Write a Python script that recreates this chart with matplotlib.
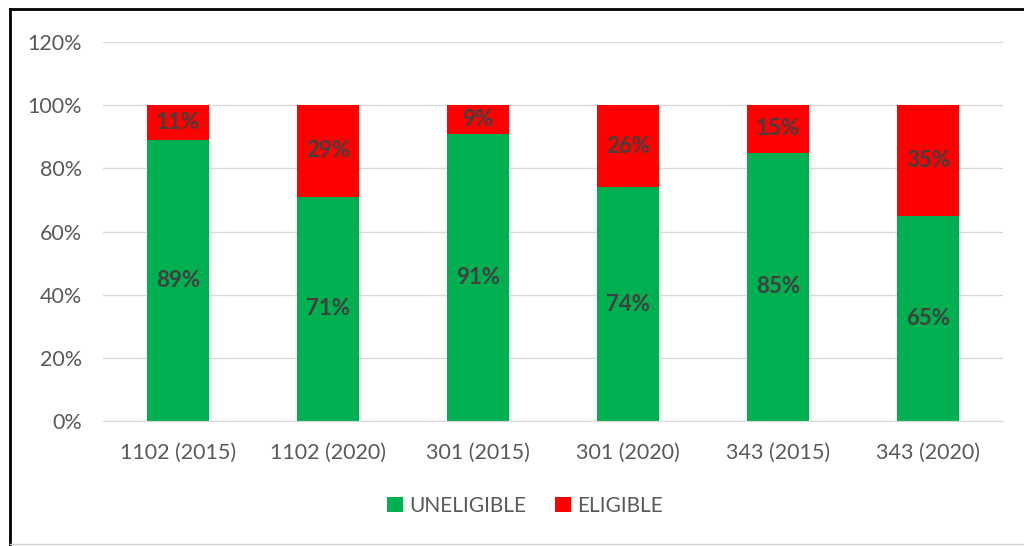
import matplotlib.pyplot as plt
from matplotlib.lines import Line2D
from matplotlib.ticker import FuncFormatter

categories = ['1102 (2015)', '1102 (2020)', '301 (2015)', '301 (2020)', '343 (2015)', '343 (2020)']
uneligible = [89, 71, 91, 74, 85, 65]
eligible = [11, 29, 9, 26, 15, 35]

green = '#00B050'
red = '#FF0000'

plt.rcParams['font.family'] = ['Lato', 'DejaVu Sans']

fig = plt.figure(figsize=(10.24, 5.46), dpi=100)
ax = fig.add_axes([103 / 1024, 1 - 421 / 546, 900 / 1024, (421 - 42) / 546])

x = range(len(categories))
b1 = ax.bar(x, uneligible, width=0.41, color=green, label='UNELIGIBLE', zorder=2)
b2 = ax.bar(x, eligible, width=0.41, bottom=uneligible, color=red, label='ELIGIBLE', zorder=2)

for bars, vals, base in [(b1, uneligible, [0] * 6), (b2, eligible, uneligible)]:
    for rect, v, b in zip(bars, vals, base):
        ax.text(rect.get_x() + rect.get_width() / 2, b + v / 2, f'{v}%',
                ha='center', va='center', fontsize=16, fontweight='bold', color='#404040', zorder=3)

ax.set_xlim(-0.5, len(categories) - 0.5)
ax.set_ylim(0, 120)
ax.set_yticks(range(0, 121, 20))
ax.yaxis.set_major_formatter(FuncFormatter(lambda v, p: f'{int(v)}%'))
ax.set_xticks(list(x))
ax.set_xticklabels(categories)
ax.tick_params(axis='both', length=0, labelsize=15.5, labelcolor='#595959')
ax.tick_params(axis='x', pad=16)
ax.tick_params(axis='y', pad=15)
ax.grid(axis='y', color='#D9D9D9', linewidth=1, zorder=0)
for s in ['top', 'right', 'left']:
    ax.spines[s].set_visible(False)
ax.spines['bottom'].set_color('#D9D9D9')

ax.legend(loc='center', bbox_to_anchor=(525 / 1024, 1 - 506 / 546), bbox_transform=fig.transFigure,
          ncol=2, frameon=False, fontsize=15, labelcolor='#595959', handlelength=0.75,
          handleheight=0.75, handletextpad=0.3, columnspacing=1.4)

# outer frame
fig.add_artist(Line2D([10 / 1024, 10 / 1024], [0, 1 - 9 / 546], transform=fig.transFigure, color='black', lw=2))
fig.add_artist(Line2D([10 / 1024, 1], [1 - 9 / 546, 1 - 9 / 546], transform=fig.transFigure, color='black', lw=2))
fig.add_artist(Line2D([10 / 1024, 1], [1 - 544 / 546, 1 - 544 / 546], transform=fig.transFigure, color='#D0D0D0', lw=1))

fig.savefig('out.png', dpi=100)
